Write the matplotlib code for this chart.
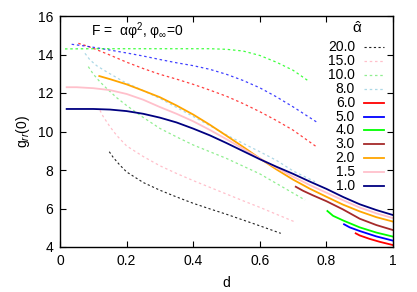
import matplotlib
matplotlib.use("Agg")
import matplotlib.pyplot as plt
from matplotlib.lines import Line2D

plt.rcParams['font.family'] = ['Liberation Sans', 'DejaVu Sans']
plt.rcParams['mathtext.fontset'] = 'custom'
plt.rcParams['mathtext.rm'] = 'Liberation Sans'
plt.rcParams['mathtext.it'] = 'Liberation Sans:italic'

# ---- data ----
alpha_labels = ["20.0", "15.0", "10.0", "8.0", "6.0", "5.0", "4.0", "3.0", "2.0", "1.5", "1.0"]

d_20 = [0.148, 0.16, 0.18, 0.2, 0.25, 0.3, 0.35, 0.4, 0.45, 0.5, 0.55, 0.6, 0.663]
g_20 = [8.95, 8.65, 8.25, 7.9, 7.35, 6.95, 6.6, 6.27, 5.98, 5.7, 5.4, 5.1, 4.71]

d_15 = [0.12, 0.13, 0.15, 0.17, 0.2, 0.25, 0.3, 0.35, 0.4, 0.45, 0.5, 0.55, 0.6, 0.65, 0.703]
g_15 = [11.1, 10.77, 10.25, 9.8, 9.25, 8.7, 8.22, 7.82, 7.45, 7.1, 6.75, 6.4, 6.06, 5.7, 5.32]

d_10 = [0.085, 0.1, 0.12, 0.14, 0.17, 0.2, 0.25, 0.3, 0.35, 0.4, 0.45, 0.5, 0.55, 0.6, 0.65, 0.7, 0.736]
g_10 = [13.37, 12.98, 12.58, 12.24, 11.76, 11.35, 10.73, 10.16, 9.72, 9.3, 8.95, 8.6, 8.2, 7.8, 7.3, 6.8, 6.44]

d_8 = [0.075, 0.09, 0.11, 0.14, 0.19, 0.25, 0.3, 0.35, 0.4, 0.45, 0.5, 0.55, 0.6, 0.65, 0.7, 0.766]
g_8 = [14.06, 13.72, 13.42, 13.1, 12.6, 12.12, 11.72, 11.25, 10.78, 10.3, 9.82, 9.38, 8.95, 8.5, 7.95, 7.39]

d_6 = [0.888, 0.9, 0.93, 0.96, 1.0]
g_6 = [4.71, 4.6, 4.42, 4.27, 4.1]
d_6u = [0.055, 0.08, 0.1, 0.15, 0.2, 0.25, 0.3, 0.35, 0.4, 0.45, 0.5, 0.55, 0.6, 0.65, 0.7, 0.77]
g_6u = [14.58, 14.45, 14.32, 13.97, 13.6, 13.27, 12.97, 12.72, 12.45, 12.15, 11.83, 11.45, 11.03, 10.57, 10.07, 9.21]

d_5 = [0.853, 0.87, 0.9, 0.95, 1.0]
g_5 = [5.18, 5.02, 4.83, 4.55, 4.33]
d_5u = [0.035, 0.08, 0.12, 0.2, 0.25, 0.3, 0.35, 0.4, 0.45, 0.5, 0.55, 0.6, 0.65, 0.7, 0.77]
g_5u = [14.53, 14.43, 14.32, 14.08, 13.92, 13.74, 13.57, 13.42, 13.23, 12.97, 12.65, 12.27, 11.8, 11.28, 10.5]

d_4 = [0.803, 0.82, 0.85, 0.9, 0.95, 1.0]
g_4 = [5.87, 5.62, 5.38, 5.02, 4.75, 4.54]
d_4u = [0.015, 0.1, 0.2, 0.3, 0.4, 0.45, 0.5, 0.55, 0.6, 0.65, 0.7, 0.749]
g_4u = [14.29, 14.3, 14.3, 14.3, 14.3, 14.3, 14.27, 14.18, 13.95, 13.6, 13.18, 12.59]

d_3 = [0.708, 0.73, 0.76, 0.8, 0.85, 0.9, 0.95, 1.0]
g_3 = [7.13, 6.92, 6.68, 6.38, 5.95, 5.47, 5.14, 4.88]

d_2 = [0.118, 0.15, 0.2, 0.25, 0.3, 0.35, 0.4, 0.45, 0.5, 0.55, 0.6, 0.65, 0.7, 0.75, 0.8, 0.85, 0.9, 0.95, 1.0]
g_2 = [12.88, 12.72, 12.45, 12.12, 11.78, 11.35, 10.88, 10.35, 9.78, 9.2, 8.6, 8.03, 7.5, 7.03, 6.61, 6.2, 5.85, 5.55, 5.32]

d_15s = [0.02, 0.05, 0.1, 0.15, 0.2, 0.25, 0.3, 0.35, 0.4, 0.45, 0.5, 0.55, 0.6, 0.65, 0.7, 0.75, 0.8, 0.85, 0.9, 0.95, 1.0]
g_15s = [12.3, 12.3, 12.25, 12.15, 11.95, 11.65, 11.27, 10.92, 10.53, 10.08, 9.6, 9.1, 8.6, 8.12, 7.65, 7.22, 6.82, 6.43, 6.05, 5.75, 5.5]

d_1 = [0.02, 0.1, 0.15, 0.2, 0.25, 0.3, 0.35, 0.4, 0.45, 0.5, 0.55, 0.6, 0.65, 0.7, 0.75, 0.8, 0.85, 0.9, 0.95, 1.0]
g_1 = [11.17, 11.17, 11.14, 11.06, 10.92, 10.72, 10.47, 10.15, 9.8, 9.4, 8.98, 8.56, 8.17, 7.8, 7.4, 7.02, 6.6, 6.22, 5.92, 5.66]

x_ticks = [0, 0.2, 0.4, 0.6, 0.8, 1]
x_ticklabels = ["0", "0.2", "0.4", "0.6", "0.8", "1"]
y_ticks = [4, 6, 8, 10, 12, 14, 16]

# ---- styles ----
dash = (0, (2.0, 2.2))
styles = {
    "20.0": dict(color="#222222", ls=dash, lw=0.8),
    "15.0": dict(color="#ffc0cb", ls=dash, lw=0.9),
    "10.0": dict(color="#90ee90", ls=dash, lw=0.9),
    "8.0": dict(color="#add8e6", ls=dash, lw=0.9),
    "6.0": dict(color="#ff0000", ls="-", lw=1.3),
    "5.0": dict(color="#0000ff", ls="-", lw=1.3),
    "4.0": dict(color="#00ff00", ls="-", lw=1.3),
    "3.0": dict(color="#a52a2a", ls="-", lw=1.3),
    "2.0": dict(color="#ffa500", ls="-", lw=1.3),
    "1.5": dict(color="#ffc0cb", ls="-", lw=1.3),
    "1.0": dict(color="#000080", ls="-", lw=1.3),
}

series = {
    "20.0": (d_20, g_20), "15.0": (d_15, g_15), "10.0": (d_10, g_10), "8.0": (d_8, g_8),
    "6.0": (d_6, g_6), "5.0": (d_5, g_5), "4.0": (d_4, g_4), "3.0": (d_3, g_3),
    "2.0": (d_2, g_2), "1.5": (d_15s, g_15s), "1.0": (d_1, g_1),
}

fig = plt.figure(figsize=(4.17, 2.92), dpi=100)
ax = fig.add_axes([60 / 417, 45 / 292, 333 / 417, 231 / 292])

# unstable dashed branches
ax.plot(d_6u, g_6u, color="#ff0000", ls=dash, lw=0.9, alpha=0.75)
ax.plot(d_5u, g_5u, color="#0000ff", ls=dash, lw=0.9, alpha=0.75)
ax.plot(d_4u, g_4u, color="#00ff00", ls=dash, lw=0.9, alpha=0.75)

for lab in alpha_labels:
    d, g = series[lab]
    ax.plot(d, g, **styles[lab])

ax.set_xlim(0, 1)
ax.set_ylim(4, 16)
ax.set_xticks(x_ticks)
ax.set_xticklabels(x_ticklabels)
ax.set_yticks(y_ticks)
ax.tick_params(direction="in", length=4, width=0.8, top=True, right=True,
               labelsize=10, pad=5)
for s in ax.spines.values():
    s.set_linewidth(1.0)

ax.set_xlabel("d", fontsize=10, labelpad=6)
ax.set_ylabel(r"g$_{rr}$(0)", fontsize=10, labelpad=4)

ax.text(0.233, 0.935, r"F =  αφ$^{2}$, φ$_{\infty}$=0", transform=ax.transAxes,
        ha="center", va="center", fontsize=10)

# manual legend
ax.text(0.891, 0.948, r"$\hat{\mathrm{α}}$", transform=ax.transAxes, ha="center",
        va="center", fontsize=11)
y0 = 0.865
dy = 13.87 / 231
for i, lab in enumerate(alpha_labels):
    y = y0 - i * dy
    ax.text(0.886, y, lab, transform=ax.transAxes, ha="right", va="center", fontsize=10)
    st = styles[lab]
    ax.add_line(Line2D([0.913, 0.973], [y, y], transform=ax.transAxes,
                       color=st["color"], ls=st["ls"], lw=st["lw"]))

fig.savefig("out.png", dpi=100)
